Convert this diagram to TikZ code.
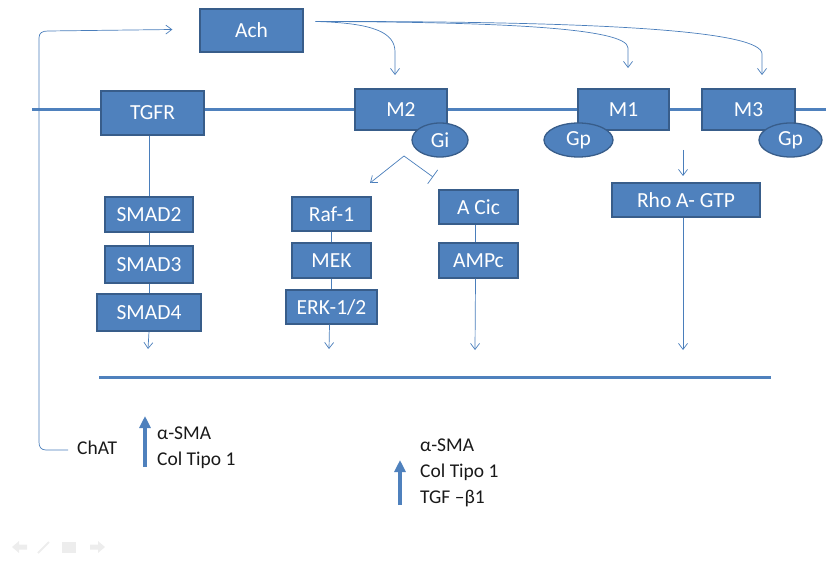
\documentclass[tikz,border=0pt]{standalone}
\usepackage{fontspec}
\setmainfont{Carlito}
\usetikzlibrary{arrows.meta,shapes.geometric,calc}
\definecolor{boxblue}{HTML}{4F81BD}
\definecolor{boxedge}{HTML}{385D8A}
\definecolor{linkblue}{HTML}{4A7EBB}
\definecolor{navgray}{HTML}{EDEDED}
\begin{document}
\begin{tikzpicture}[x=1pt,y=-1pt,
  bx/.style={draw=boxedge,fill=boxblue,line width=1.3pt,text=white,inner sep=0pt,
    font=\fontsize{21.5}{24}\selectfont},
  ell/.style={bx,ellipse},
  link/.style={draw=linkblue,line width=0.7pt},
  tipped/.style={link,-{Straight Barb[length=6pt,width=9pt]}},
  membrane/.style={draw=boxblue,line width=3pt},
  bigup/.style={draw=boxblue,line width=3.5pt,-{Triangle[length=12pt,width=11pt]}},
  lbl/.style={inner sep=0pt,text=black!90,align=left,font=\fontsize{19.5}{26}\selectfont}]
\useasboundingbox (0,0) rectangle (826,561);

% membranes
\coordinate (memL) at (32,109.5);
\coordinate (memR) at (826,109.5);
\draw[membrane] (memL) -- (memR);
\coordinate (lowL) at (99,377);
\coordinate (lowR) at (771,377);
\draw[membrane] (lowL) -- (lowR);

% boxes
\node[bx,minimum width=103pt,minimum height=43pt] (Ach) at (251.5,30.5) {Ach};
\node[bx,minimum width=103pt,minimum height=44pt] (TGFR) at (152.5,113) {TGFR};
\node[bx,minimum width=92pt,minimum height=41pt] (M2) at (401,109.5) {M2};
\node[bx,minimum width=91pt,minimum height=41pt] (M1) at (623.5,109.5) {M1};
\node[bx,minimum width=93pt,minimum height=41pt] (M3) at (748.5,109.5) {M3};
\node[ell,minimum width=56pt,minimum height=34pt] (Gi) at (440,140) {Gi};
\node[ell,minimum width=69pt,minimum height=34pt] (GpA) at (578.5,140) {Gp};
\node[ell,minimum width=63pt,minimum height=34pt] (GpB) at (790.5,140) {Gp};
\node[bx,minimum width=148pt,minimum height=34pt] (Rho) at (686,200) {Rho A- GTP};
\node[bx,minimum width=79pt,minimum height=34pt] (ACic) at (478.5,207) {A Cic};
\node[bx,minimum width=79pt,minimum height=35pt] (AMPc) at (478.5,260.5) {AMPc};
\node[bx,minimum width=79pt,minimum height=34pt] (Raf) at (331.5,214) {Raf-1};
\node[bx,minimum width=79pt,minimum height=35pt] (MEK) at (331.5,260.5) {MEK};
\node[bx,minimum width=91pt,minimum height=34pt] (ERK) at (331.5,307) {ERK-1/2};
\node[bx,minimum width=88pt,minimum height=35pt] (S2) at (149,214.5) {SMAD2};
\node[bx,minimum width=88pt,minimum height=37pt] (S3) at (149,264.5) {SMAD3};
\node[bx,minimum width=104pt,minimum height=37pt] (S4) at (149,312.5) {SMAD4};

% Ach connectors
\coordinate (achOut) at ($(Ach.east)+(12,-9)$);
\coordinate (toM2) at (395,75);
\coordinate (toM1) at (628,68);
\coordinate (toM3) at (762,75);
\draw[tipped] (achOut) .. controls (375,23) and (395,33) .. (395,52) -- (toM2);
\draw[tipped] (achOut) .. controls (500,22) and (628,28) .. (628,48) -- (toM1);
\draw[tipped] (achOut) .. controls (620,21) and (762,32) .. (762,54) -- (toM3);

% feedback loop ChAT -> Ach
\node[lbl,anchor=west] (ChAT) at (77,448) {ChAT};
\coordinate (loopS) at ($(ChAT.west)+(-9,2)$);
\coordinate (loopE) at ($(Ach.west)+(-27,-1)$);
\draw[tipped] (loopS) -- (46,450) .. controls (41,450) and (39,447) .. (39,442)
  -- (39,38) .. controls (39,33) and (42,31) .. (48,31) -- (loopE);

% TGFR pathway
\draw[link] (S2.north |- TGFR.south) -- (S2.north);
\draw[link] (S2.south) -- (S3.north);
\draw[link] (S3.south) -- (S4.north);
\coordinate (s4end) at (148,349);
\draw[tipped] (S4.south) -- (s4end);

% Gi branches
\coordinate (giOut) at ($(Gi.center)+(-36,16)$);
\coordinate (toRaf) at (370,183);
\coordinate (toACic) at (433,177);
\draw[tipped] (giOut) -- (toRaf);
\draw[link,-{Bar[width=17pt,line width=0.7pt]}] (giOut) -- (toACic);

% MAPK chain
\draw[link] (Raf.south) -- (MEK.north);
\draw[link] (MEK.south) -- (ERK.north);
\coordinate (erkend) at (329,349);
\draw[tipped] (ERK.south) ++(-2,0) coordinate (erkS) -- (erkend);

% cAMP chain
\draw[link] (ACic.south) ++(-3,0) -- ($(AMPc.north)+(-3,0)$);
\coordinate (ampend) at (475,350);
\draw[tipped] ($(AMPc.south)+(-3,0)$) -- (ampend);

% Rho
\coordinate (m1out) at (683,150);
\coordinate (rhoin) at (683,176);
\draw[tipped] (m1out) -- (rhoin);
\coordinate (rhoend) at (683,350);
\draw[tipped] ($(Rho.south)+(-3,0)$) -- (rhoend);

% bottom text and big arrows
\coordinate (upAs) at (145,467);
\coordinate (upAe) at (145,416);
\draw[bigup] (upAs) -- (upAe);
\node[lbl,anchor=west] (txtA) at (157,448) {α-SMA\\Col Tipo 1};
\coordinate (upBs) at (400,505);
\coordinate (upBe) at (400,460);
\draw[bigup] (upBs) -- (upBe);
\node[lbl,anchor=west] (txtB) at (420,473) {α-SMA\\Col Tipo 1\\TGF –β1};

% faint slide navigation icons
\fill[navgray] (12,547) -- (19,541) -- (19,544.5) -- (27,544.5) -- (27,549.5) -- (19,549.5) -- (19,553) -- cycle;
\draw[navgray,line width=2pt] (38,553) -- (49,542);
\fill[navgray] (62,542) rectangle (76,553);
\fill[navgray] (105,547) -- (98,541) -- (98,544.5) -- (90,544.5) -- (90,549.5) -- (98,549.5) -- (98,553) -- cycle;
\end{tikzpicture}
\end{document}
